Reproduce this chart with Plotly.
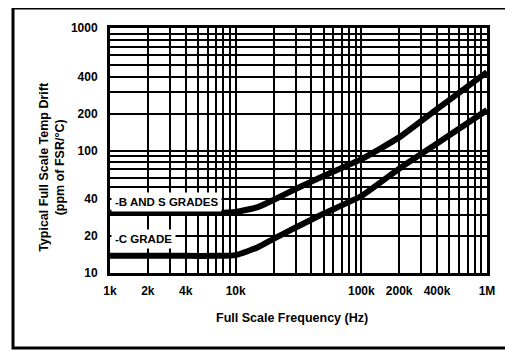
import plotly.graph_objects as go
import numpy as np

# ---- data ----
freq_hz = [1000, 2000, 4000, 7000, 10000, 15000, 20000, 30000, 50000, 100000, 200000, 400000, 1000000]
drift_bs = [31, 31, 31, 31, 31.5, 34.5, 39.5, 48.5, 62, 85, 128, 218, 437]
drift_c = [13.8, 13.8, 13.8, 13.8, 14, 16.2, 19, 23.5, 30.5, 42.5, 71, 114, 214]

x_tick_vals = [1e3, 2e3, 4e3, 1e4, 1e5, 2e5, 4e5, 1e6]
x_tick_text = ["1k", "2k", "4k", "10k", "100k", "200k", "400k", "1M"]
y_tick_vals = [10, 20, 40, 100, 200, 400, 1000]
y_tick_text = ["10", "20", "40", "100", "200", "400", "1000"]

label_bs = "-B AND S GRADES"
label_c = "-C GRADE"
label_bs_y = 38
label_c_y = 18.9

FONT = "Liberation Sans, Arial, Helvetica, sans-serif"

# full log grids (1..9 per decade)
x_grid = [m * 10 ** e for e in range(3, 6) for m in range(1, 10)] + [1e6]
y_grid = [m * 10 ** e for e in range(1, 3) for m in range(1, 10)] + [1000]

def grid_text(vals, lab_vals, lab_text):
    out = []
    for v in vals:
        hit = [t for lv, t in zip(lab_vals, lab_text) if abs(lv - v) < 1e-6 * v]
        out.append("<b>" + hit[0] + "</b>" if hit else "")
    return out

fig = go.Figure()
for ys in (drift_bs, drift_c):
    fig.add_trace(go.Scatter(x=freq_hz, y=ys, mode="lines",
                             line=dict(color="black", width=6, shape="spline", smoothing=0.5),
                             showlegend=False, hoverinfo="skip"))

# page body adds an 8px offset; margins compensate so the plot sits at x 110..487, y 28..273
fig.update_layout(
    width=513, height=351,
    margin=dict(l=102, r=34, t=20, b=86),
    paper_bgcolor="white", plot_bgcolor="white",
    font=dict(family=FONT, color="black", size=12),
    xaxis=dict(type="log", range=[3, 6], tickmode="array", tickvals=x_grid,
               ticktext=grid_text(x_grid, x_tick_vals, x_tick_text),
               showgrid=True, gridcolor="black", gridwidth=2,
               showline=True, linecolor="black", linewidth=3, mirror=True,
               ticks="", ticklabelstandoff=5, zeroline=False,
               tickfont=dict(size=12, family=FONT)),
    yaxis=dict(type="log", range=[1, 3], tickmode="array", tickvals=y_grid,
               ticktext=grid_text(y_grid, y_tick_vals, y_tick_text),
               showgrid=True, gridcolor="black", gridwidth=2,
               showline=True, linecolor="black", linewidth=3, mirror=True,
               ticks="", ticklabelstandoff=7, zeroline=False,
               tickfont=dict(size=12, family=FONT)),
)

for txt, yv in ((label_bs, label_bs_y), (label_c, label_c_y)):
    fig.add_annotation(x=3, y=np.log10(yv), xref="x", yref="y", text="<b>" + txt + "</b>",
                       showarrow=False, xanchor="left", yanchor="middle", xshift=1,
                       bgcolor="white", borderpad=3, font=dict(size=11.5, family=FONT))

fig.add_annotation(x=-0.154, y=0.433, xref="paper", yref="paper",
                   xanchor="center", yanchor="middle",
                   text="<b>Typical Full Scale Temp Drift</b><br><b>(ppm of FSR/°C)</b>",
                   textangle=-90, showarrow=False, font=dict(size=12.5, family=FONT))
fig.add_annotation(x=0.483, y=-0.184, xref="paper", yref="paper",
                   xanchor="center", yanchor="middle",
                   text="<b>Full Scale Frequency (Hz)</b>", showarrow=False,
                   font=dict(size=12.5, family=FONT))

# outer frame
fig.add_shape(type="rect", xref="paper", yref="paper", x0=-0.2573, x1=1.061, y0=-0.306, y1=1.0816,
              line=dict(color="black", width=3), layer="below")

fig.write_html("out.html")
